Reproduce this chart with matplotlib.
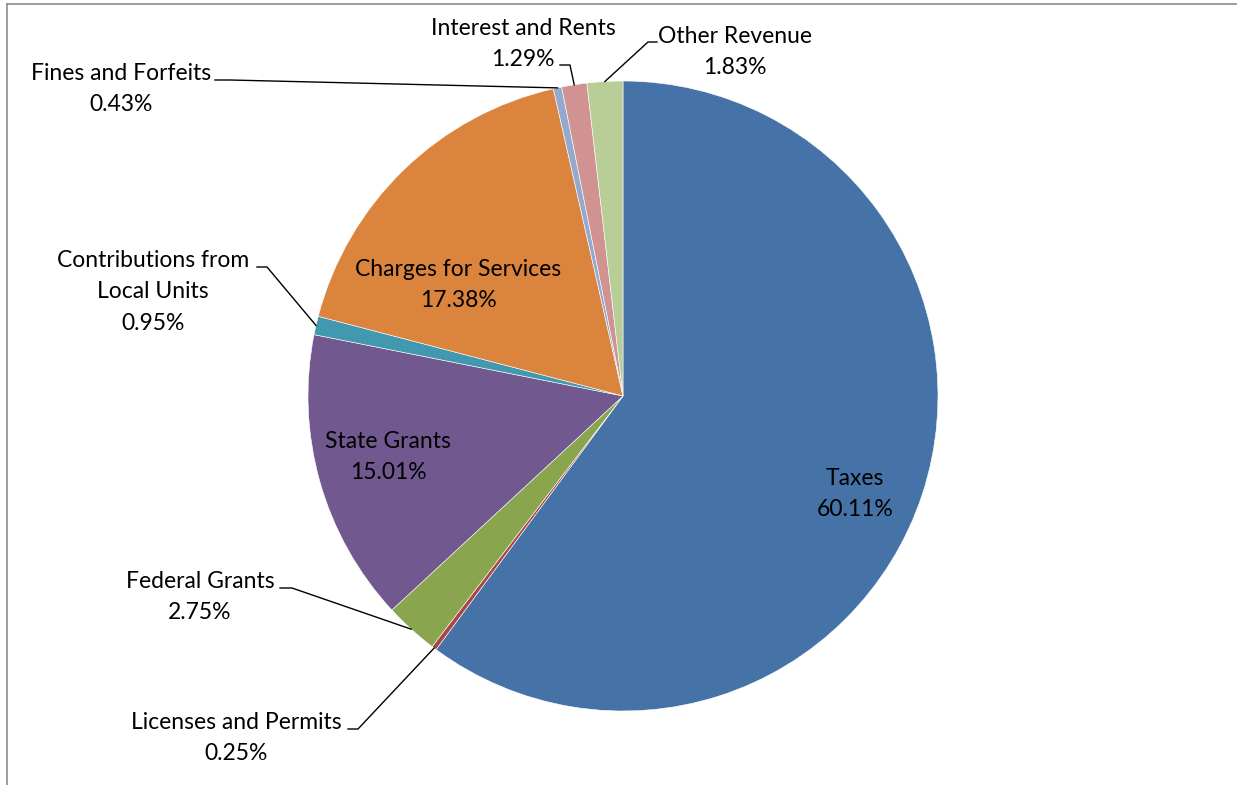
import matplotlib.pyplot as plt
import numpy as np
from matplotlib.lines import Line2D

# 收入构成数据
categories = ['Taxes', 'Licenses and Permits', 'Federal Grants', 'State Grants',
              'Contributions from\nLocal Units', 'Charges for Services',
              'Fines and Forfeits', 'Interest and Rents', 'Other Revenue']
shares = [60.11, 0.25, 2.75, 15.01, 0.95, 17.38, 0.43, 1.29, 1.83]
colors = ['#4572A7', '#AA4643', '#89A54E', '#71588F', '#4198AF',
          '#DB843D', '#93A9CF', '#D19392', '#B9CD96']

plt.rcParams['font.family'] = ['Lato', 'DejaVu Sans']

W, H = 1237, 785
fig = plt.figure(figsize=(W / 100, H / 100), dpi=100)
ax = fig.add_axes([0, 0, 1, 1])

cx, cy, r = 623, H - 396, 315
wedges, _ = ax.pie(shares, colors=colors, startangle=90, counterclock=False,
                   center=(cx, cy), radius=r,
                   wedgeprops=dict(edgecolor='white', linewidth=0.4))
ax.set_xlim(0, W)
ax.set_ylim(0, H)
ax.set_aspect('equal')
ax.axis('off')


def edge_point(w):
    a = np.deg2rad((w.theta1 + w.theta2) / 2)
    return cx + r * np.cos(a), cy + r * np.sin(a)


fs = 16.5
ls = 1.6
# 标签位置 (像素坐标, 从上往下)
inside = {0: (855, 494), 3: (388, 457), 5: (458, 285)}
for i, (x, y) in inside.items():
    ax.text(x, H - y, '%s\n%.2f%%' % (categories[i], shares[i]), ha='center', va='center',
            fontsize=fs, color='black', linespacing=ls)

# 外部标签: 文字中心, 引线起点(水平段)
outside = {
    1: ((236, 738), (348, 729), (358, 729)),
    2: ((200, 597), (280, 588), (292, 588)),
    4: ((153, 292), (257, 267), (267, 267)),
    6: ((121, 89), (215, 80), (230, 80)),
    7: ((523, 44), (560, 65), (570, 65)),
    8: ((735, 52), (657, 42), (648, 42)),
}
for i, ((tx, ty), p0, p1) in outside.items():
    ax.text(tx, H - ty, '%s\n%.2f%%' % (categories[i], shares[i]), ha='center', va='center',
            fontsize=fs, color='black', linespacing=ls)
    ex, ey = edge_point(wedges[i])
    ax.plot([p0[0], p1[0], ex], [H - p0[1], H - p1[1], ey], color='black', lw=1)

# 图表外框 (只露出上边和左边)
fig.add_artist(Line2D([7 / W, 1], [1 - 4 / H, 1 - 4 / H], color='#8c8c8c', lw=1.2))
fig.add_artist(Line2D([7 / W, 7 / W], [0, 1 - 4 / H], color='#8c8c8c', lw=1.2))

plt.savefig('out.png', dpi=100)
